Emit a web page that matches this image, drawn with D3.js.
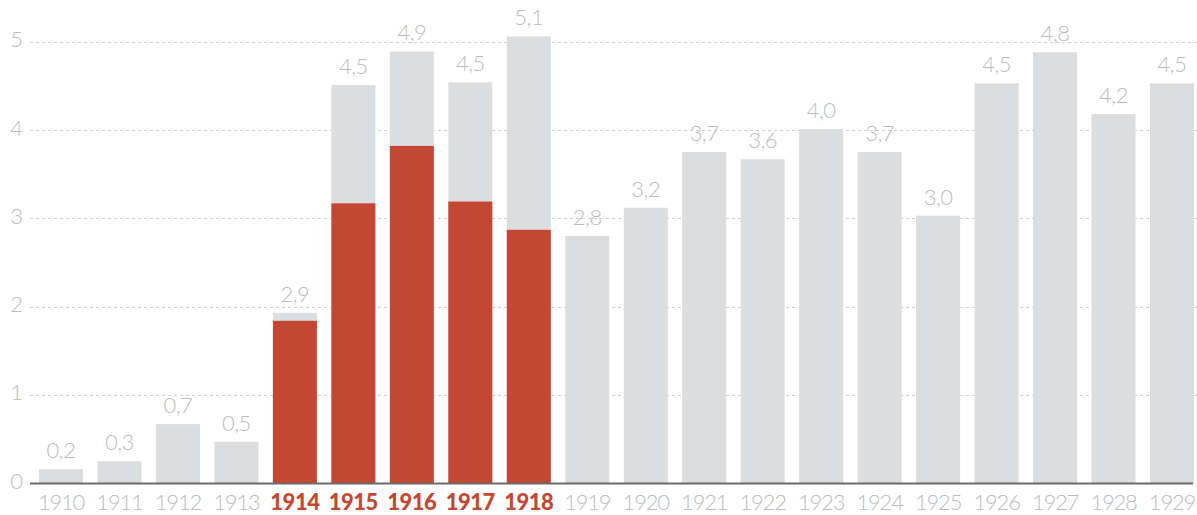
<!DOCTYPE html>
<html>
<head>
<meta charset="utf-8">
<script src="https://cdn.jsdelivr.net/npm/d3@7"></script>
<style>
  html, body { margin: 0; padding: 0; background: #fff; }
  svg { display: block; }
  text { font-family: Lato, "Open Sans", "DejaVu Sans", sans-serif; font-weight: 300; }
</style>
</head>
<body>
<svg id="chart" width="1197" height="515"></svg>
<script>
const years = ["1910","1911","1912","1913","1914","1915","1916","1917","1918","1919","1920","1921","1922","1923","1924","1925","1926","1927","1928","1929"];
const totals = [0.16,0.25,0.67,0.47,1.93,4.51,4.89,4.54,5.06,2.80,3.12,3.75,3.67,4.01,3.75,3.03,4.53,4.88,4.18,4.53];
const warPart = [0,0,0,0,1.84,3.17,3.82,3.19,2.87,0,0,0,0,0,0,0,0,0,0,0];
const valueLabels = ["0,2","0,3","0,7","0,5","2,9","4,5","4,9","4,5","5,1","2,8","3,2","3,7","3,6","4,0","3,7","3,0","4,5","4,8","4,2","4,5"];
const warYears = ["1914","1915","1916","1917","1918"];
const yTicks = [0,1,2,3,4,5];

const svg = d3.select("#chart");
const grey = "#dcdddf", red = "#c44733", labelGrey = "#bcbcbe";

const x = d3.scaleBand().domain(years).range([39, 1194]).paddingInner(0.2475).paddingOuter(0);
const y = d3.scaleLinear().domain([0, 5]).range([483.3, 41.7]);

// grid
svg.append("g").selectAll("line").data(yTicks.filter(d => d > 0)).join("line")
  .attr("x1", 30).attr("x2", 1197)
  .attr("y1", d => Math.round(y(d)) + 0.5).attr("y2", d => Math.round(y(d)) + 0.5)
  .attr("stroke", "#d0d0d0").attr("stroke-width", 1).attr("stroke-dasharray", "3,3");

// y tick labels
svg.append("g").selectAll("text").data(yTicks).join("text")
  .attr("x", 23).attr("y", d => y(d) + 5.5)
  .attr("text-anchor", "end").attr("font-size", 22).attr("fill", labelGrey)
  .text(d => d);

// total bars
svg.append("g").selectAll("rect").data(years).join("rect")
  .attr("x", d => x(d)).attr("width", x.bandwidth())
  .attr("y", (d, i) => y(totals[i])).attr("height", (d, i) => y(0) - y(totals[i]))
  .attr("fill", grey);

// war share bars
svg.append("g").selectAll("rect").data(years.filter((d, i) => warPart[i] > 0)).join("rect")
  .attr("x", d => x(d)).attr("width", x.bandwidth())
  .attr("y", d => y(warPart[years.indexOf(d)]))
  .attr("height", d => y(0) - y(warPart[years.indexOf(d)]))
  .attr("fill", red);

// baseline
svg.append("line").attr("x1", 30).attr("x2", 1193).attr("y1", 483.5).attr("y2", 483.5)
  .attr("stroke", "#6b6b6b").attr("stroke-width", 2);

// value labels
svg.append("g").selectAll("text").data(years).join("text")
  .attr("x", d => x(d) + x.bandwidth() / 2)
  .attr("y", (d, i) => y(totals[i]) - 11)
  .attr("text-anchor", "middle").attr("font-size", 22).attr("fill", labelGrey)
  .attr("letter-spacing", -0.5)
  .text((d, i) => valueLabels[i]);

// x labels
svg.append("g").selectAll("text").data(years).join("text")
  .attr("x", d => x(d) + x.bandwidth() / 2)
  .attr("y", 510)
  .attr("text-anchor", "middle").attr("font-size", 22)
  .attr("letter-spacing", d => warYears.includes(d) ? -0.5 : -1.2)
  .attr("fill", d => warYears.includes(d) ? red : labelGrey)
  .style("font-weight", d => warYears.includes(d) ? 900 : 300)
  .text(d => d);
</script>
</body>
</html>
